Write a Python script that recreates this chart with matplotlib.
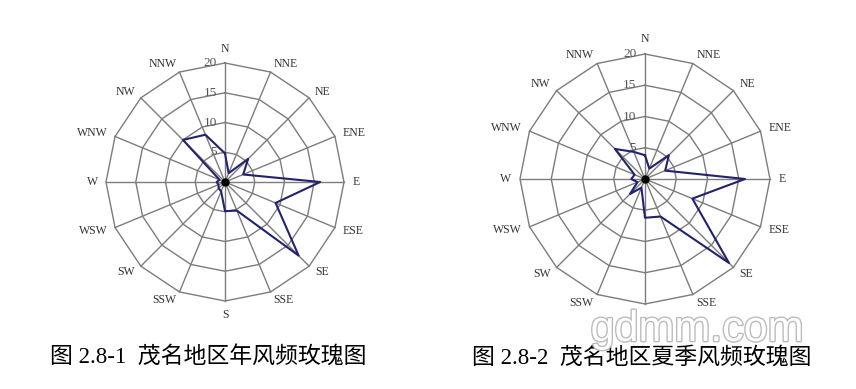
import numpy as np
import matplotlib
matplotlib.use('Agg')
import matplotlib.pyplot as plt
import matplotlib.patheffects as pe

# Wind directions, clockwise from north
directions = ['N', 'NNE', 'NE', 'ENE', 'E', 'ESE', 'SE', 'SSE',
              'S', 'SSW', 'SW', 'WSW', 'W', 'WNW', 'NW', 'NNW']

# Frequency (%) read from the two roses
annual_freq = [4.8, 1.6, 5.5, 3.3, 16.0, 9.2, 17.5, 5.2,
               4.9, 1.7, 1.5, 1.2, 1.4, 1.0, 10.0, 8.6]
summer_freq = [3.8, 1.8, 5.4, 3.5, 16.0, 8.2, 19.0, 6.5,
               6.2, 1.5, 3.4, 1.3, 2.2, 1.8, 6.8, 4.7]

ring_values = [5, 10, 15, 20]
captions = ['图 2.8-1  茂名地区年风频玫瑰图', '图 2.8-2  茂名地区夏季风频玫瑰图']

W, H = 856, 389
fig = plt.figure(figsize=(W / 100, H / 100), dpi=100)

grid_color = '#7c7c7c'
line_color = '#22226e'
angles = np.deg2rad(np.arange(16) * 22.5)


def draw_rose(ax, freq, hide=()):
    rmax = ring_values[-1]
    # polygon rings
    for rv in ring_values:
        xs = rv * np.sin(np.append(angles, angles[0]))
        ys = rv * np.cos(np.append(angles, angles[0]))
        ax.plot(xs, ys, color=grid_color, lw=1.0, zorder=1)
    # spokes
    for a in angles:
        ax.plot([0, rmax * np.sin(a)], [0, rmax * np.cos(a)],
                color=grid_color, lw=1.0, zorder=1)
    # ring labels left of the north spoke
    for rv in ring_values:
        ax.text(-1.4, rv, str(rv), ha='right', va='center', fontsize=9.5,
                family='Liberation Serif', color='#555555', zorder=3)
    # direction labels
    for a, d in zip(angles, directions):
        if d in hide:
            continue
        s, c = np.sin(a), np.cos(a)
        ha = 'left' if s > 0.1 else ('right' if s < -0.1 else 'center')
        va = 'center'
        if abs(s) < 0.1:
            va = 'bottom' if c > 0 else 'top'
        ax.text(21.4 * s, 21.4 * c, d, ha=ha, va=va, fontsize=8.5,
                family='Liberation Serif', color='#333333')
    # frequency polygon
    f = np.array(freq)
    xs = f * np.sin(angles)
    ys = f * np.cos(angles)
    ax.plot(np.append(xs, xs[0]), np.append(ys, ys[0]),
            color=line_color, lw=1.5, zorder=4)
    ax.plot([0], [0], 'o', color='black', ms=5, zorder=5)


# (center x px, center y px from bottom, pixels per unit)
layouts = [(225, 207, 119 / 20), (645, 210, 125 / 20)]
hidden = [(), ('S',)]  # summer rose's S label is lost under the watermark
half = 165
for (cx, cy, scale), freq, hide in zip(layouts, [annual_freq, summer_freq], hidden):
    ax = fig.add_axes([(cx - half) / W, (cy - half) / H, 2 * half / W, 2 * half / H])
    lim = half / scale
    ax.set_xlim(-lim, lim)
    ax.set_ylim(-lim, lim)
    ax.axis('off')
    draw_rose(ax, freq, hide)

# captions
fig.text(50 / W, 1 - 358 / H, captions[0], ha='left', va='center', fontsize=16.5,
         family=['Liberation Serif', 'Noto Sans CJK SC'], color='black')
fig.text(472 / W, 1 - 358 / H, captions[1], ha='left', va='center', fontsize=16.5,
         family=['Liberation Serif', 'Noto Sans CJK SC'], color='black')

# watermark
fig.text(697 / W, 1 - 341 / H, 'gdmm.com', ha='center', va='baseline', fontsize=31,
         family='Liberation Sans', color='white',
         path_effects=[pe.withStroke(linewidth=2, foreground='#bcbcbc')])

fig.savefig('out.png', dpi=100)
